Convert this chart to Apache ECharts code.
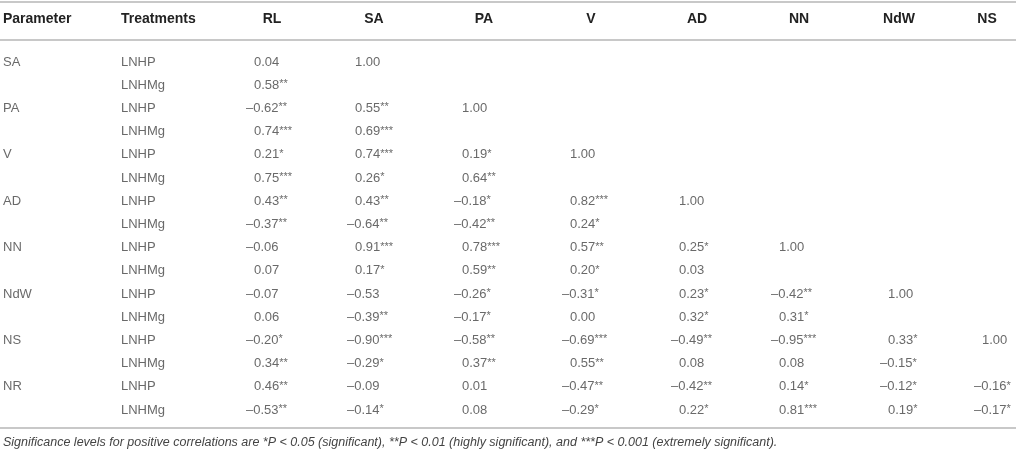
<!DOCTYPE html>
<html>
<head>
<meta charset="utf-8">
<script src="https://cdn.jsdelivr.net/npm/echarts@6/dist/echarts.min.js"></script>
<style>
html,body{margin:0;padding:0;background:#fff}
#main{width:1016px;height:454px}
</style>
</head>
<body>
<div id="main"></div>
<script>
// 表格数据
var parameters = ['SA','PA','V','AD','NN','NdW','NS','NR'];
var treatments = ['LNHP','LNHMg'];
var columns = ['RL','SA','PA','V','AD','NN','NdW','NS'];
var headers = ['Parameter','Treatments'];

// 每列的相关系数（按行：SA-LNHP, SA-LNHMg, PA-LNHP ...）
var colRL  = ['0.04','0.58**','-0.62**','0.74***','0.21*','0.75***','0.43**','-0.37**','-0.06','0.07','-0.07','0.06','-0.20*','0.34**','0.46**','-0.53**'];
var colSA  = ['1.00','','0.55**','0.69***','0.74***','0.26*','0.43**','-0.64**','0.91***','0.17*','-0.53','-0.39**','-0.90***','-0.29*','-0.09','-0.14*'];
var colPA  = ['','','1.00','','0.19*','0.64**','-0.18*','-0.42**','0.78***','0.59**','-0.26*','-0.17*','-0.58**','0.37**','0.01','0.08'];
var colV   = ['','','','','1.00','','0.82***','0.24*','0.57**','0.20*','-0.31*','0.00','-0.69***','0.55**','-0.47**','-0.29*'];
var colAD  = ['','','','','','','1.00','','0.25*','0.03','0.23*','0.32*','-0.49**','0.08','-0.42**','0.22*'];
var colNN  = ['','','','','','','','','1.00','','-0.42**','0.31*','-0.95***','0.08','0.14*','0.81***'];
var colNdW = ['','','','','','','','','','','1.00','','0.33*','-0.15*','-0.12*','0.19*'];
var colNS  = ['','','','','','','','','','','','','1.00','','-0.16*','-0.17*'];
var note = 'Significance levels for positive correlations are *P < 0.05 (significant), **P < 0.01 (highly significant), and ***P < 0.001 (extremely significant).';

var cols = [colRL,colSA,colPA,colV,colAD,colNN,colNdW,colNS];

// 版式：列的位置
var paramX = 3, treatX = 121;
var headX = [272,374,484,591,697,799,899,987];
var cellX = [254,355,462,570,679,779,888,982];
var font = 'Liberation Sans, Arial, Helvetica, sans-serif';
var txtColor = '#444';
var lineColor = '#c8c8c8';

var rows = [];
parameters.forEach(function(p){
	treatments.forEach(function(t){ rows.push(p + '|' + t); });
});

var paramData = [], treatData = [], cellData = [];
rows.forEach(function(r, i){
	var parts = r.split('|');
	if (i % 2 === 0) paramData.push({value:[paramX, i], name:parts[0]});
	treatData.push({value:[treatX, i], name:parts[1]});
});
cols.forEach(function(col, c){
	col.forEach(function(s, i){
		if (!s) return;
		var m = s.match(/^(-?)([\d.]+)(\**)$/);
		var txt = (m[1] ? '{d|–}' : '') + '{n|' + m[2] + '}' + (m[3] ? '{s|' + m[3] + '}' : '');
		cellData.push({
			value:[cellX[c], i],
			name:txt,
			label:{offset:[m[1] ? -8 : 0, 0]}
		});
	});
});

var chart = echarts.init(document.getElementById('main'));

var labelBase = {
	show:true,
	position:'inside',
	align:'left',
	verticalAlign:'middle',
	fontFamily:font,
	fontSize:13,
	color:txtColor,
	formatter:function(p){ return p.name; }
};

var graphics = [];
// 表格线
[2, 40, 428].forEach(function(y){
	graphics.push({
		type:'line', silent:true,
		shape:{x1:0, y1:y, x2:1016, y2:y},
		style:{stroke:lineColor, lineWidth:2}
	});
});
// 表头
var hdStyle = {fontFamily:font, fontSize:14, fontWeight:'bold', fill:'#222', textVerticalAlign:'middle'};
graphics.push({type:'text', x:paramX, y:19, style:Object.assign({text:headers[0], textAlign:'left'}, hdStyle)});
graphics.push({type:'text', x:treatX, y:19, style:Object.assign({text:headers[1], textAlign:'left'}, hdStyle)});
columns.forEach(function(h, c){
	graphics.push({type:'text', x:headX[c], y:19, style:Object.assign({text:h, textAlign:'center'}, hdStyle)});
});
// 注释
graphics.push({
	type:'text', x:3, y:443,
	style:{text:note, fontFamily:font, fontSize:12.5, fontStyle:'italic', fill:txtColor, textAlign:'left', textVerticalAlign:'middle'}
});

var option = {
	animation:false,
	grid:{left:0, right:0, top:50.4, height:371.2},
	xAxis:{type:'value', min:0, max:1016, show:false},
	yAxis:{type:'category', data:rows, inverse:true, show:false},
	graphic:graphics,
	series:[
		{
			type:'scatter', silent:true, symbolSize:1,
			itemStyle:{color:'rgba(0,0,0,0)'},
			label:labelBase,
			data:paramData
		},
		{
			type:'scatter', silent:true, symbolSize:1,
			itemStyle:{color:'rgba(0,0,0,0)'},
			label:labelBase,
			data:treatData
		},
		{
			type:'scatter', silent:true, symbolSize:1,
			itemStyle:{color:'rgba(0,0,0,0)'},
			label:Object.assign({}, labelBase, {
				rich:{
					n:{fontFamily:font, fontSize:13, color:txtColor},
					d:{fontFamily:font, fontSize:13, color:txtColor},
					s:{fontFamily:font, fontSize:11, color:txtColor, padding:[0,0,2,0]}
				}
			}),
			data:cellData
		}
	]
};
chart.setOption(option);
</script>
</body>
</html>
